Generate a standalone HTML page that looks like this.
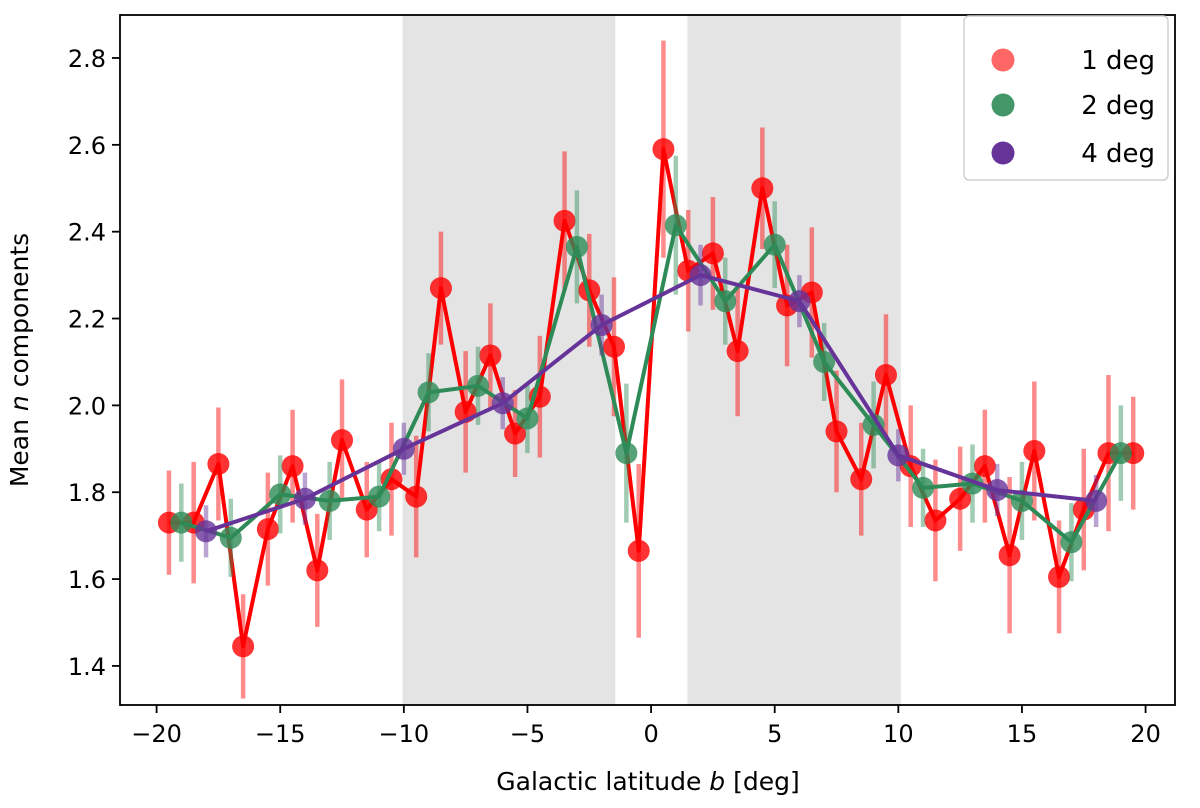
<!DOCTYPE html>
<html><head><meta charset="utf-8"><style>
body{margin:0;background:#fff;}
svg text{font-family:"DejaVu Sans","Liberation Sans",sans-serif;}
</style></head><body>
<svg id="chart" width="1200" height="803" xmlns="http://www.w3.org/2000/svg"></svg>
<script>
const redX=[-19.5,-18.5,-17.5,-16.5,-15.5,-14.5,-13.5,-12.5,-11.5,-10.5,-9.5,-8.5,-7.5,-6.5,-5.5,-4.5,-3.5,-2.5,-1.5,-0.5,0.5,1.5,2.5,3.5,4.5,5.5,6.5,7.5,8.5,9.5,10.5,11.5,12.5,13.5,14.5,15.5,16.5,17.5,18.5,19.5];
const redY=[1.73,1.73,1.865,1.445,1.715,1.86,1.62,1.92,1.76,1.83,1.79,2.27,1.985,2.115,1.935,2.02,2.425,2.265,2.135,1.665,2.59,2.31,2.35,2.125,2.5,2.23,2.26,1.94,1.83,2.07,1.86,1.735,1.785,1.86,1.655,1.895,1.605,1.76,1.89,1.89];
const redErr=[0.12,0.14,0.13,0.12,0.13,0.13,0.13,0.14,0.11,0.13,0.14,0.13,0.14,0.12,0.1,0.14,0.16,0.13,0.16,0.2,0.25,0.14,0.13,0.15,0.14,0.14,0.15,0.14,0.13,0.14,0.14,0.14,0.12,0.13,0.18,0.16,0.13,0.14,0.18,0.13];
const greenX=[-19,-17,-15,-13,-11,-9,-7,-5,-3,-1,1,3,5,7,9,11,13,15,17,19];
const greenY=[1.73,1.695,1.795,1.78,1.79,2.03,2.045,1.97,2.365,1.89,2.415,2.24,2.37,2.1,1.955,1.81,1.82,1.78,1.685,1.89];
const greenErr=[0.09,0.09,0.09,0.09,0.08,0.09,0.09,0.08,0.13,0.16,0.16,0.1,0.1,0.09,0.1,0.09,0.09,0.09,0.09,0.11];
const purpleX=[-18,-14,-10,-6,-2,2,6,10,14,18];
const purpleY=[1.71,1.785,1.9,2.005,2.185,2.3,2.24,1.885,1.805,1.78];
const purpleErr=[0.06,0.06,0.06,0.06,0.07,0.07,0.06,0.06,0.06,0.06];
const xTicks=[-20,-15,-10,-5,0,5,10,15,20];
const yTicks=[1.4,1.6,1.8,2.0,2.2,2.4,2.6,2.8];
const bands=[[-10.05,-1.45],[1.47,10.1]];

const L=120,R=1175,T=15,B=705;
const xmin=-21.48,xmax=21.19,ymin=1.31,ymax=2.899;
const sx=v=>L+(v-xmin)/(xmax-xmin)*(R-L);
const sy=v=>B-(v-ymin)/(ymax-ymin)*(B-T);
const svg=document.getElementById('chart');
const NS='http://www.w3.org/2000/svg';
function mk(tag,attrs,parent){const e=document.createElementNS(NS,tag);for(const k in attrs)e.setAttribute(k,attrs[k]);(parent||svg).appendChild(e);return e;}

bands.forEach(b=>{
  const r=mk('rect',{x:sx(b[0]),y:T,width:sx(b[1])-sx(b[0]),height:B-T,fill:'#e4e4e4'});
  
  
});

function series(xs,ys,es,color,name){
  const g=mk('g',{});
  
  
  xs.forEach((x,i)=>{
    const l=mk('line',{x1:sx(x),x2:sx(x),y1:sy(ys[i]-es[i]),y2:sy(ys[i]+es[i]),stroke:color,'stroke-width':4.5,'stroke-opacity':0.45},g);
    
    
  });
  const p=mk('polyline',{points:xs.map((x,i)=>sx(x)+','+sy(ys[i])).join(' '),fill:'none',stroke:color,'stroke-width':4,'stroke-linejoin':'round'},g);
  
  
  xs.forEach((x,i)=>{
    const c=mk('circle',{cx:sx(x),cy:sy(ys[i]),r:11,fill:color,'fill-opacity':0.8},g);
    
    
  });
}
series(redX,redY,redErr,'#ff0000','1-deg');
series(greenX,greenY,greenErr,'#2e8b57','2-deg');
series(purpleX,purpleY,purpleErr,'#663399','4-deg');

const frame=mk('rect',{x:L,y:T,width:R-L,height:B-T,fill:'none',stroke:'#000','stroke-width':1.8});



xTicks.forEach(t=>{
  const x=sx(t);
  const l=mk('line',{x1:x,x2:x,y1:B,y2:B+8,stroke:'#000','stroke-width':1.8});
  
  
  const tx=mk('text',{x:x,y:B+37,'text-anchor':'middle','font-size':24});
  tx.textContent=(t<0?'\u2212'+(-t):String(t));
  
  
});
yTicks.forEach(t=>{
  const y=sy(t);
  const l=mk('line',{x1:L-8,x2:L,y1:y,y2:y,stroke:'#000','stroke-width':1.8});
  
  
  const tx=mk('text',{x:L-14,y:y+9,'text-anchor':'end','font-size':24});
  tx.textContent=t.toFixed(1);
  
  
});
</script>
<svg style="position:absolute;left:0;top:0" width="1200" height="803" xmlns="http://www.w3.org/2000/svg">
<text x="648" y="790" text-anchor="middle" font-size="25">Galactic latitude <tspan font-style="italic">b</tspan> [deg]</text>
<text transform="translate(28,360) rotate(-90)" text-anchor="middle" font-size="25">Mean <tspan font-style="italic">n</tspan> components</text>
<g>
<rect x="964" y="16" width="204" height="164" rx="5" fill="#fff" fill-opacity="0.85" stroke="#d0d0d0" stroke-width="1.5"/>
<circle cx="1003" cy="60" r="11.5" fill="#ff0000" fill-opacity="0.6"/>
<text x="1155" y="69" text-anchor="end" font-size="26">1 deg</text>
<circle cx="1003" cy="105" r="11.5" fill="#2e8b57" fill-opacity="0.9"/>
<text x="1155" y="114" text-anchor="end" font-size="26">2 deg</text>
<circle cx="1003" cy="153" r="11.5" fill="#663399"/>
<text x="1155" y="162" text-anchor="end" font-size="26">4 deg</text>
</g>
</svg>
</body></html>
